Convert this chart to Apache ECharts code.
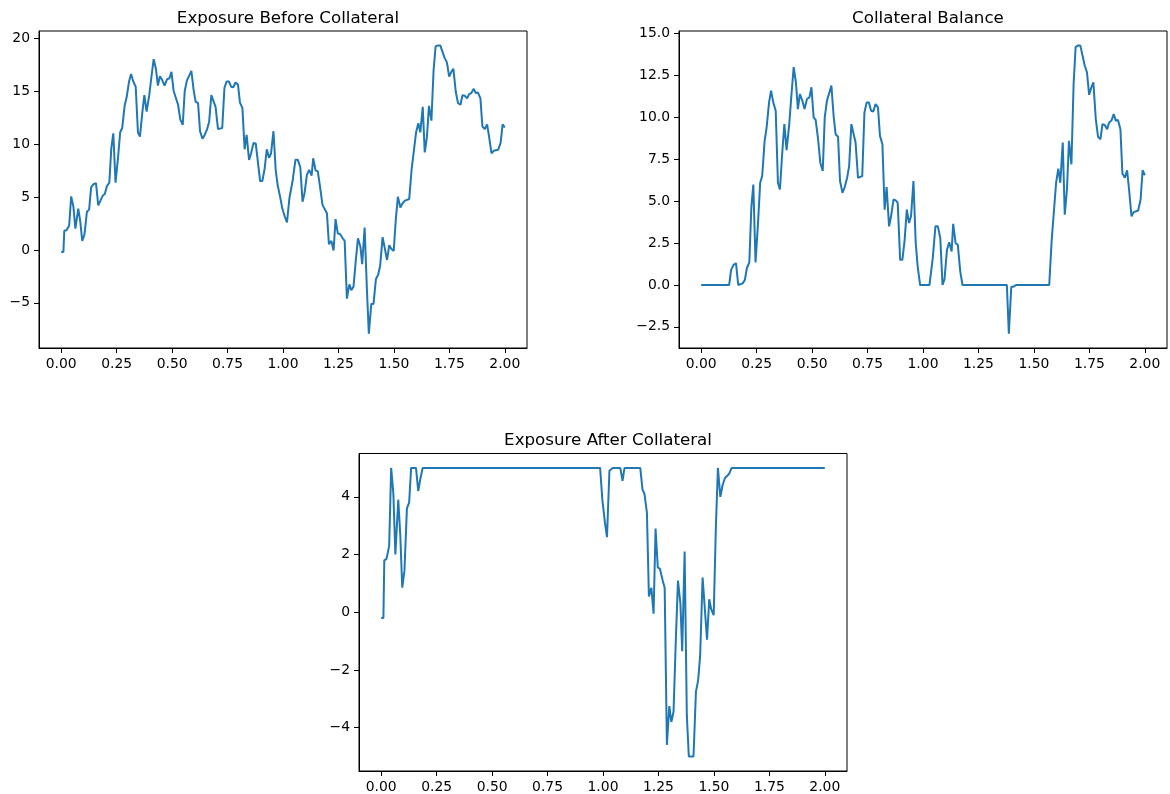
<!DOCTYPE html>
<html>
<head>
<meta charset="utf-8">
<script src="https://cdn.jsdelivr.net/npm/echarts@6/dist/echarts.min.js"></script>
<style>
html,body{margin:0;padding:0;background:#fff;}
#c{width:1170px;height:794px;}
</style>
</head>
<body>
<div id="c"></div>
<script>
// ---- data ----
const times = [0.000,0.010,0.014,0.024,0.036,0.045,0.055,0.064,0.077,0.086,0.095,0.105,0.116,0.126,0.135,0.146,0.157,0.167,0.176,0.187,0.197,0.206,0.217,0.226,0.235,0.245,0.256,0.266,0.275,0.286,0.295,0.306,0.315,0.325,0.336,0.346,0.355,0.366,0.375,0.385,0.397,0.406,0.417,0.427,0.436,0.445,0.456,0.466,0.477,0.488,0.497,0.507,0.516,0.527,0.537,0.548,0.557,0.567,0.576,0.587,0.597,0.606,0.617,0.626,0.637,0.647,0.658,0.667,0.677,0.686,0.696,0.707,0.716,0.726,0.736,0.746,0.756,0.766,0.776,0.786,0.797,0.806,0.817,0.827,0.836,0.847,0.856,0.867,0.877,0.886,0.897,0.907,0.917,0.927,0.937,0.946,0.957,0.967,0.976,0.987,0.997,1.008,1.018,1.029,1.044,1.056,1.067,1.078,1.088,1.097,1.108,1.118,1.129,1.136,1.147,1.157,1.168,1.178,1.187,1.198,1.207,1.218,1.228,1.237,1.247,1.257,1.269,1.278,1.288,1.299,1.308,1.318,1.329,1.338,1.349,1.357,1.368,1.378,1.387,1.398,1.408,1.419,1.429,1.438,1.449,1.458,1.469,1.479,1.488,1.499,1.509,1.518,1.529,1.539,1.550,1.559,1.569,1.580,1.589,1.600,1.610,1.619,1.630,1.639,1.649,1.658,1.669,1.679,1.688,1.699,1.709,1.718,1.729,1.739,1.749,1.759,1.768,1.779,1.789,1.800,1.809,1.819,1.830,1.839,1.849,1.860,1.869,1.879,1.890,1.899,1.910,1.920,1.929,1.940,1.950,1.959,1.970,1.981,1.990,2.000];

const beforeValues = [-0.2,-0.2,1.8,1.85,2.3,5.05,4.1,2.0,3.9,2.7,0.85,1.45,3.6,3.8,5.9,6.2,6.3,4.2,4.6,5.1,5.3,6.0,6.35,9.6,11.0,6.35,8.65,11.1,11.5,13.6,14.4,15.9,16.6,15.9,15.4,11.1,10.7,13.0,14.6,13.05,14.6,16.2,18.0,17.1,15.5,16.4,16.0,15.5,16.1,16.2,16.8,15.0,14.85,13.7,12.3,11.8,15.0,16.0,16.0,16.9,15.1,14.0,13.85,11.2,10.5,10.85,11.4,12.1,14.6,14.5,13.5,11.4,11.45,11.5,15.3,15.9,15.9,15.4,15.35,15.8,15.6,13.9,13.4,9.5,10.85,8.5,9.1,10.1,10.05,9.9,6.5,6.5,7.65,9.5,8.7,9.1,11.2,7.55,6.1,5.0,3.9,3.15,2.6,4.9,6.6,8.5,8.5,7.8,4.55,5.35,7.1,7.55,7.0,8.65,7.5,7.4,5.8,4.25,4.1,3.45,0.55,0.85,-0.05,2.9,1.55,1.5,1.1,0.85,-4.6,-3.25,-3.8,-3.45,-0.8,1.1,0.3,-1.35,2.1,-3.6,-7.9,-5.1,-5.1,-2.75,-2.35,-1.5,1.2,1.2,-0.95,0.45,0.1,-0.1,3.0,5.03,4.0,4.4,4.65,4.7,4.8,7.65,7.65,11.1,11.95,11.1,13.5,9.2,10.7,13.6,12.2,17.0,19.2,19.3,19.3,19.3,18.1,17.7,16.35,16.8,17.1,14.9,13.85,13.7,14.6,14.55,14.3,14.7,14.8,15.2,14.8,14.85,14.3,11.65,11.4,11.85,10.7,9.1,9.35,9.35,9.45,10.1,11.85,11.55];

const collateralValues = [0,0,0,0,0,0.05,0,0,0,0,0,0,0,0,0.9,1.2,1.3,0,0,0.1,0.3,1.0,1.35,4.6,6.0,1.35,3.65,6.1,6.5,8.6,9.4,10.9,11.6,10.9,10.4,6.1,5.7,8.0,9.6,8.05,9.6,11.2,13.0,12.1,10.5,11.4,11.0,10.5,11.1,11.2,11.8,10.0,9.85,8.7,7.3,6.8,10.0,11.0,11.0,11.9,10.1,9.0,8.85,6.2,5.5,5.85,6.4,7.1,9.6,9.5,8.5,6.4,6.45,6.5,10.3,10.9,10.9,10.4,10.35,10.8,10.6,8.9,8.4,4.5,5.85,3.5,4.1,5.1,5.05,4.9,1.5,1.5,2.65,4.5,3.7,4.1,6.2,2.55,1.1,0,0,0,0,0,1.6,3.5,3.5,2.8,0,0.35,2.1,2.55,2.0,3.65,2.5,2.4,0.8,0,0,0,0,0,0,0,0,0,0,0,0,0,0,0,0,0,0,0,0,0,-2.9,-0.1,-0.1,0,0,0,0,0,0,0,0,0,0,0.03,0,0,0,0,0,2.65,2.65,6.1,6.95,6.1,8.5,4.2,5.7,8.6,7.2,12.0,14.2,14.3,14.3,14.3,13.1,12.7,11.35,11.8,12.1,9.9,8.85,8.7,9.6,9.55,9.3,9.7,9.8,10.2,9.8,9.85,9.3,6.65,6.4,6.85,5.7,4.1,4.35,4.35,4.45,5.1,6.85,6.55];

const afterValues = [-0.2,-0.2,1.8,1.85,2.3,5,4.1,2.0,3.9,2.7,0.85,1.45,3.6,3.8,5,5,5,4.2,4.6,5,5,5,5,5,5,5,5,5,5,5,5,5,5,5,5,5,5,5,5,5,5,5,5,5,5,5,5,5,5,5,5,5,5,5,5,5,5,5,5,5,5,5,5,5,5,5,5,5,5,5,5,5,5,5,5,5,5,5,5,5,5,5,5,5,5,5,5,5,5,5,5,5,5,5,5,5,5,5,5,5.0,3.9,3.15,2.6,4.9,5,5,5,5,4.55,5,5,5,5,5,5,5,5,4.25,4.1,3.45,0.55,0.85,-0.05,2.9,1.55,1.5,1.1,0.85,-4.6,-3.25,-3.8,-3.45,-0.8,1.1,0.3,-1.35,2.1,-3.6,-5,-5,-5,-2.75,-2.35,-1.5,1.2,1.2,-0.95,0.45,0.1,-0.1,3.0,5,4.0,4.4,4.65,4.7,4.8,5,5,5,5,5,5,5,5,5,5,5,5,5,5,5,5,5,5,5,5,5,5,5,5,5,5,5,5,5,5,5,5,5,5,5,5,5,5,5,5,5,5,5,5];

// ---- tick labels ----
const xTicks = [0, 0.25, 0.5, 0.75, 1.0, 1.25, 1.5, 1.75, 2.0];
const beforeTicks = [-5, 0, 5, 10, 15, 20];
const collateralTicks = [-2.5, 0, 2.5, 5, 7.5, 10, 12.5, 15];
const afterTicks = [-4, -2, 0, 2, 4];

const titles = ['Exposure Before Collateral', 'Collateral Balance', 'Exposure After Collateral'];

const FONT = 'DejaVu Sans';
const minus = v => String(v).replace('-', '\u2212');

function pairs(vals) { return times.map((t, i) => [t, vals[i]]); }

const grids = [
  {left: 39, top: 31, width: 488, height: 317},
  {left: 679, top: 31, width: 488, height: 317},
  {left: 359, top: 453.5, width: 488, height: 317.5}
];

const yRanges = [[-9.26, 20.66], [-3.76, 15.16], [-5.5, 5.5]];
const yTickSets = [beforeTicks, collateralTicks, afterTicks];
const yFmt = [
  v => minus(v.toFixed(0)),
  v => minus(v.toFixed(1)),
  v => minus(v.toFixed(0))
];

const axisLineStyle = {lineStyle: {color: '#000', width: 1}};
const tickStyle = {lineStyle: {color: '#000', width: 1}, length: 5, inside: false};
const labelStyle = {color: '#000', fontFamily: FONT, fontSize: 13.9};

const option = {
  animation: false,
  backgroundColor: '#fff',
  title: grids.map((g, i) => ({
    text: titles[i],
    left: g.left + g.width / 2,
    top: i < 2 ? 5 : 427,
    textAlign: 'center',
    textStyle: {fontFamily: FONT, fontSize: 16.7, fontWeight: 'normal', color: '#000'}
  })),
  grid: grids.map(g => Object.assign({show: true, borderColor: '#000', borderWidth: 1, backgroundColor: '#fff'}, g)),
  xAxis: grids.map((g, i) => ({
    type: 'value', gridIndex: i, min: -0.1, max: 2.1,
    axisLine: Object.assign({onZero: false, show: true}, axisLineStyle),
    axisTick: Object.assign({show: true, customValues: xTicks}, tickStyle),
    axisLabel: Object.assign({show: true, customValues: xTicks, margin: 9, formatter: v => v.toFixed(2)}, labelStyle),
    splitLine: {show: false}
  })),
  yAxis: grids.map((g, i) => ({
    type: 'value', gridIndex: i, min: yRanges[i][0], max: yRanges[i][1],
    axisLine: Object.assign({onZero: false, show: true}, axisLineStyle),
    axisTick: Object.assign({show: true, customValues: yTickSets[i]}, tickStyle),
    axisLabel: Object.assign({show: true, customValues: yTickSets[i], margin: 9, formatter: yFmt[i]}, labelStyle),
    splitLine: {show: false}
  })),
  series: [beforeValues, collateralValues, afterValues].map((vals, i) => ({
    type: 'line', xAxisIndex: i, yAxisIndex: i,
    data: pairs(vals), showSymbol: false, symbol: 'none',
    lineStyle: {color: '#1f77b4', width: 2}, itemStyle: {color: '#1f77b4'},
    emphasis: {disabled: true}
  }))
};

const chart = echarts.init(document.getElementById('c'), null, {renderer: 'canvas'});
chart.setOption(option);
</script>
</body>
</html>
